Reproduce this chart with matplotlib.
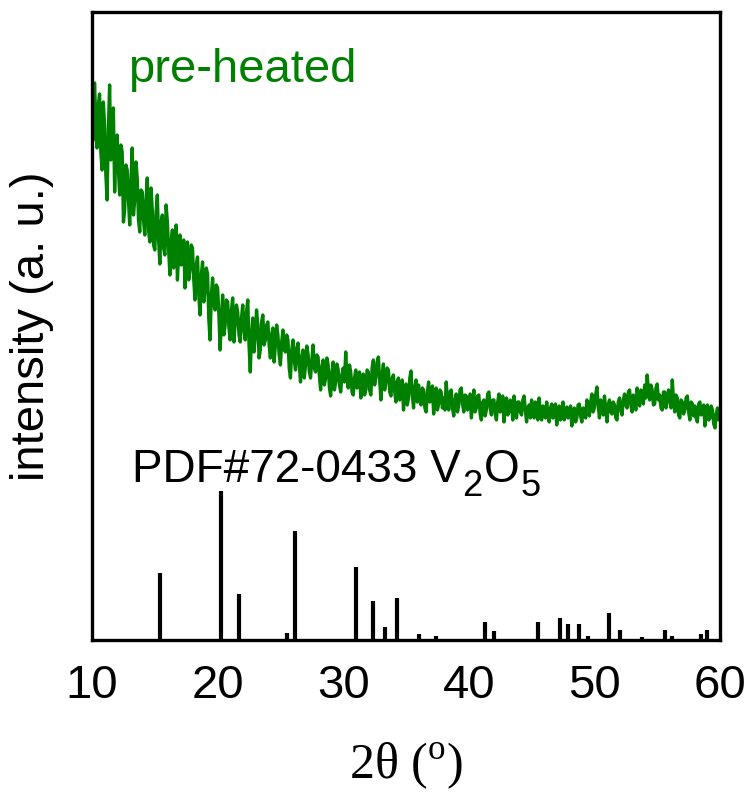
import numpy as np
import matplotlib
matplotlib.use("Agg")
import matplotlib.pyplot as plt

# --- 1. DATA ---
# measured pattern, 2theta from 10 to 60 deg, step 0.1 deg (arbitrary units)
two_theta = np.linspace(10, 60, 501)
intensity = [
    528, 500, 557, 520, 492, 535, 546, 488, 470, 538, 515, 465, 440, 510, 555, 480, 500, 532, 448, 490,
    505, 470, 445, 495, 488, 418, 430, 475, 470, 440, 415, 460, 492, 425, 440, 478, 462, 420, 408, 450,
    448, 420, 405, 440, 462, 410, 398, 452, 430, 395, 390, 428, 445, 400, 376, 418, 425, 392, 385, 435,
    418, 390, 365, 398, 410, 372, 382, 415, 360, 388, 405, 375, 378, 400, 352, 385, 398, 360, 370, 395,
    392, 360, 340, 375, 383, 345, 325, 365, 378, 338, 350, 372, 366, 320, 300, 345, 362, 335, 330, 355,
    352, 325, 290, 320, 345, 305, 315, 340, 338, 312, 300, 330, 342, 298, 318, 335, 328, 305, 298, 322,
    335, 310, 300, 328, 340, 295, 268, 305, 322, 288, 305, 330, 315, 282, 290, 318, 325, 295, 300, 315,
    318, 295, 282, 305, 312, 278, 295, 315, 305, 285, 275, 298, 310, 290, 288, 305, 300, 272, 262, 290,
    300, 280, 270, 292, 297, 275, 258, 282, 290, 262, 275, 294, 286, 268, 262, 280, 295, 272, 268, 285,
    283, 265, 250, 272, 280, 255, 262, 282, 275, 252, 244, 268, 278, 250, 258, 276, 270, 255, 248, 265,
    272, 258, 288, 262, 252, 275, 268, 248, 245, 262, 270, 252, 255, 268, 242, 256, 266, 245, 250, 270,
    268, 250, 245, 272, 280, 255, 262, 278, 283, 260, 240, 265, 276, 250, 258, 272, 270, 248, 244, 262,
    265, 248, 238, 258, 262, 240, 245, 260, 230, 248, 256, 235, 242, 262, 269, 245, 232, 252, 260, 238,
    255, 240, 235, 252, 250, 232, 228, 248, 258, 238, 240, 254, 226, 242, 252, 230, 236, 250, 248, 232,
    242, 230, 258, 240, 230, 248, 250, 232, 224, 240, 246, 228, 235, 250, 252, 236, 228, 245, 244, 230,
    238, 246, 222, 236, 250, 228, 232, 244, 245, 226, 220, 238, 240, 224, 230, 246, 248, 232, 225, 240,
    240, 226, 220, 238, 246, 228, 232, 244, 218, 234, 242, 225, 228, 240, 236, 220, 244, 232, 222, 238,
    238, 228, 225, 240, 244, 230, 218, 232, 235, 222, 240, 228, 222, 238, 230, 220, 242, 226, 220, 234,
    232, 222, 238, 226, 218, 232, 236, 222, 225, 236, 215, 228, 234, 220, 228, 238, 220, 230, 233, 222,
    226, 234, 214, 228, 232, 218, 222, 235, 236, 224, 218, 232, 230, 222, 240, 230, 224, 238, 246, 228,
    232, 245, 253, 235, 222, 240, 238, 225, 244, 232, 218, 235, 240, 228, 226, 238, 235, 222, 220, 238,
    242, 230, 225, 240, 246, 235, 232, 248, 250, 235, 228, 245, 238, 230, 252, 240, 234, 250, 248, 236,
    255, 242, 265, 250, 240, 255, 250, 235, 236, 252, 256, 240, 245, 232, 230, 248, 248, 232, 238, 250,
    245, 232, 260, 240, 228, 245, 242, 225, 222, 240, 238, 226, 230, 242, 244, 228, 220, 238, 236, 224,
    234, 222, 218, 236, 238, 225, 226, 235, 214, 228, 235, 220, 222, 234, 230, 216, 212, 226, 232, 220,
    225,
]

# reference card PDF#72-0433 (V2O5): positions and relative intensities (%)
pdf_pos = [15.4, 20.3, 21.7, 25.5, 26.2, 31.0, 32.4, 33.3, 34.3, 36.0,
           37.4, 41.3, 42.0, 45.5, 47.3, 47.9, 48.8, 49.5, 51.2, 51.5,
           52.0, 53.8, 55.6, 56.2, 58.5, 59.0]
pdf_int = [45, 100, 31, 5, 73, 49, 26, 9, 28, 4,
           3, 12, 6, 12, 15, 11, 11, 3, 18, 1,
           7, 2, 7, 3, 4, 7]
PDF_SCALE = 1.49  # stick height in plot units per %

xticks = [10, 20, 30, 40, 50, 60]

# --- 2. FIGURE ---
plt.rcParams["font.family"] = ["Liberation Sans", "DejaVu Sans"]

fig = plt.figure(figsize=(7.5, 7.98), dpi=100)
ax = fig.add_axes([0.1227, 0.198, 0.8373, 0.787])

ax.plot(two_theta, intensity, color="#008000", lw=2.4)
ax.vlines(pdf_pos, 0, np.array(pdf_int) * PDF_SCALE, color="black", lw=3)

ax.text(12.87, 558, "pre-heated", color="#008000", fontsize=34,
        ha="left", va="baseline")

# card label, subscripts built from separate pieces so they stay large
t1 = ax.text(13.18, 158, "PDF#72-0433 V", color="black", fontsize=33,
             ha="left", va="baseline")
t2 = ax.annotate("2", xy=(1, 0), xycoords=t1, xytext=(1, -9),
                 textcoords="offset points", fontsize=26, va="bottom")
t3 = ax.annotate("O", xy=(1, 0), xycoords=(t2, t1), xytext=(1, 0),
                 textcoords="offset points", fontsize=33, va="bottom")
ax.annotate("5", xy=(1, 0), xycoords=(t3, t1), xytext=(1, -9),
            textcoords="offset points", fontsize=26, va="bottom")

ax.set_xlim(10, 60)
ax.set_ylim(0, 628)
ax.set_xticks(xticks)
ax.set_yticks([])
ax.tick_params(axis="x", length=0, pad=17, labelsize=34)

for sp in ax.spines.values():
    sp.set_linewidth(2.4)

ax.set_xlabel(r"2θ ($^\mathregular{o}$)", family="Liberation Serif", fontsize=36)
ax.xaxis.set_label_coords(0.5, -0.16)
ax.set_ylabel("intensity (a. u.)", fontsize=34)
ax.yaxis.set_label_coords(-0.06, 0.5)

fig.savefig("out.png", dpi=100)
